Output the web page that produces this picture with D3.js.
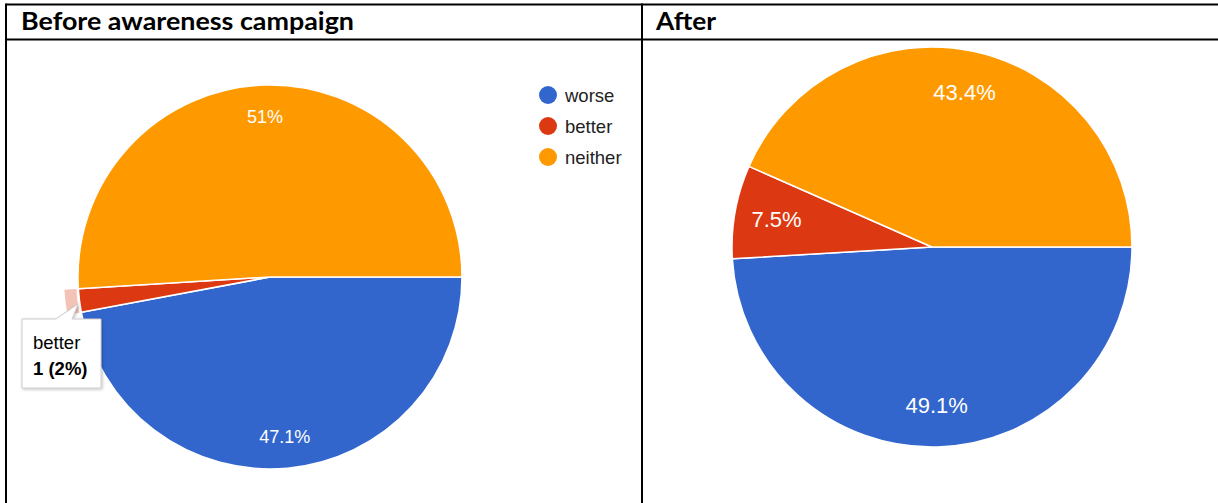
<!DOCTYPE html>
<html><head><meta charset="utf-8">
<script src="https://cdn.jsdelivr.net/npm/d3@7"></script>
<style>
html,body{margin:0;padding:0;background:#fff;}
svg{display:block;}
</style></head>
<body>
<svg id="c" width="1218" height="503"></svg>
<script>
const categories = ["worse", "better", "neither"];
const colors = ["#3366cc", "#dc3912", "#ff9900"];
const beforeValues = [24, 1, 26];
const beforeLabels = ["47.1%", "2%", "51%"];
const afterValues = [26, 4, 23];
const afterLabels = ["49.1%", "7.5%", "43.4%"];
const headers = ["Before awareness campaign", "After"];
const tooltipLines = ["better", "1 (2%)"];

const svg = d3.select("#c");
const font = "Arial, 'Liberation Sans', sans-serif";
const headFont = "Lato, Carlito, Calibri, sans-serif";

// table lines
const tbl = svg.append("g").attr("stroke", "#000").attr("stroke-width", 2);
tbl.append("line").attr("x1", 6).attr("x2", 1218).attr("y1", 4.5).attr("y2", 4.5);
tbl.append("line").attr("x1", 6).attr("x2", 1218).attr("y1", 39.5).attr("y2", 39.5);
tbl.append("line").attr("x1", 6).attr("x2", 6).attr("y1", 3.5).attr("y2", 503);
tbl.append("line").attr("x1", 642).attr("x2", 642).attr("y1", 3.5).attr("y2", 503);

svg.append("text").attr("x", 21).attr("y", 30).text(headers[0])
  .attr("font-family", headFont).attr("font-weight", "bold")
  .attr("font-size", 24).attr("textLength", 333).attr("lengthAdjust", "spacingAndGlyphs").attr("fill", "#000");
svg.append("text").attr("x", 656).attr("y", 30).text(headers[1])
  .attr("font-family", headFont).attr("font-weight", "bold")
  .attr("font-size", 24).attr("textLength", 60).attr("lengthAdjust", "spacingAndGlyphs").attr("fill", "#000");

const color = d3.scaleOrdinal().domain(categories).range(colors);

function drawPie(values, labels, cx, cy, r, labelFrac, fontSize, showLabel) {
  const data = categories.map((c, i) => ({cat: c, value: values[i], label: labels[i]}));
  const pie = d3.pie().value(d => d.value).sort(null)
    .startAngle(Math.PI / 2).endAngle(Math.PI / 2 + 2 * Math.PI);
  const arcs = pie(data);
  const arc = d3.arc().innerRadius(0).outerRadius(r);
  const labelArc = d3.arc().innerRadius(r * labelFrac).outerRadius(r * labelFrac);
  const g = svg.append("g").attr("transform", `translate(${cx},${cy})`);
  g.selectAll("path.s").data(arcs).join("path").attr("class", "s")
    .attr("d", arc).attr("fill", d => color(d.data.cat))
    .attr("stroke", "#fff").attr("stroke-width", 1.5).attr("stroke-linejoin", "round");
  g.selectAll("text.l").data(arcs.filter(showLabel)).join("text").attr("class", "l")
    .attr("transform", d => `translate(${labelArc.centroid(d)})`)
    .attr("text-anchor", "middle").attr("dy", "0.36em")
    .attr("font-family", font).attr("font-size", fontSize).attr("fill", "#fff")
    .text(d => d.data.label);
  return {g, arcs, r};
}

const left = drawPie(beforeValues, beforeLabels, 270, 277, 192, 0.835, 18, d => d.data.cat !== "better");
drawPie(afterValues, afterLabels, 932, 247, 200, 0.79, 22, d => true);

// hover ring on "better" slice of the left pie
const betterArc = left.arcs[1];
left.g.insert("path", "text")
  .attr("d", d3.arc().innerRadius(left.r + 2).outerRadius(left.r + 14)(betterArc))
  .attr("fill", color("better")).attr("fill-opacity", 0.3);

// legend (left chart)
const lg = svg.append("g").attr("transform", "translate(548,95)");
const li = lg.selectAll("g").data(categories).join("g")
  .attr("transform", (d, i) => `translate(0,${i * 31})`);
li.append("circle").attr("r", 9).attr("fill", d => color(d));
li.append("text").attr("x", 17).attr("dy", "0.36em").attr("font-family", font)
  .attr("font-size", 18.5).attr("fill", "#222").text(d => d);

// tooltip
const defs = svg.append("defs");
const flt = defs.append("filter").attr("id", "sh").attr("x", "-20%").attr("y", "-20%").attr("width", "150%").attr("height", "150%");
flt.append("feDropShadow").attr("dx", 1).attr("dy", 1).attr("stdDeviation", 1.5).attr("flood-color", "#000").attr("flood-opacity", 0.25);
const tt = svg.append("g");
const bx = 22, by = 319, bw = 79, bh = 69;
tt.append("path")
  .attr("d", `M${bx},${by} L${bx + 34},${by} L${78},${304} L${bx + 50},${by} L${bx + bw},${by} L${bx + bw},${by + bh} L${bx},${by + bh} Z`)
  .attr("fill", "#fff").attr("stroke", "#ccc").attr("stroke-width", 1).attr("filter", "url(#sh)");
tt.append("text").attr("x", 33).attr("y", 349).attr("font-family", font).attr("font-size", 18.5)
  .attr("fill", "#000").text(tooltipLines[0]);
tt.append("text").attr("x", 33).attr("y", 375).attr("font-family", font).attr("font-size", 18.5)
  .attr("font-weight", "bold").attr("fill", "#000").text(tooltipLines[1]);
</script>
</body></html>
